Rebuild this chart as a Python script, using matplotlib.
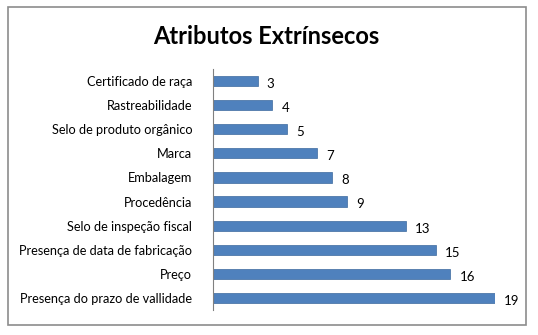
import matplotlib.pyplot as plt
from matplotlib.patches import Rectangle

categorias = ['Certificado de raça', 'Rastreabilidade', 'Selo de produto orgânico',
              'Marca', 'Embalagem', 'Procedência', 'Selo de inspeção fiscal',
              'Presença de data de fabricação', 'Preço', 'Presença do prazo de vallidade']
valores = [3, 4, 5, 7, 8, 9, 13, 15, 16, 19]

plt.rcParams['font.family'] = ['Lato', 'DejaVu Sans']

W, H = 538, 335
fig = plt.figure(figsize=(W / 100, H / 100), dpi=100)
fig.patch.set_facecolor('white')

# moldura do gráfico
fig.patches.append(Rectangle((8 / W, 1 - 325 / H), 518 / W, 318 / H,
                             transform=fig.transFigure, fill=False,
                             edgecolor='#8c8c8c', linewidth=1.2))

ax = fig.add_axes([213 / W, 1 - 310 / H, (495 - 213) / W, 241 / H])
y = list(range(len(categorias)))
ax.barh(y, valores, height=0.42, color='#4F81BD', edgecolor='#3d6a9e', linewidth=0.5)
ax.set_ylim(len(categorias) - 0.5, -0.5)
ax.set_xlim(0, 19)
ax.set_yticks(y)
ax.set_yticklabels(categorias, fontsize=9.2)
ax.tick_params(axis='y', length=0, pad=15)
ax.set_xticks([])
for s in ['top', 'right', 'bottom']:
    ax.spines[s].set_visible(False)
ax.spines['left'].set_color('#808080')

for yi, v in zip(y, valores):
    ax.text(v + 0.62, yi + 0.12, str(v), va='center', ha='left', fontsize=9.5, clip_on=False)

fig.text(266 / W, 1 - 36 / H, 'Atributos Extrínsecos', ha='center', va='center',
         fontsize=17, fontweight='bold')

fig.savefig('out.png', dpi=100)
